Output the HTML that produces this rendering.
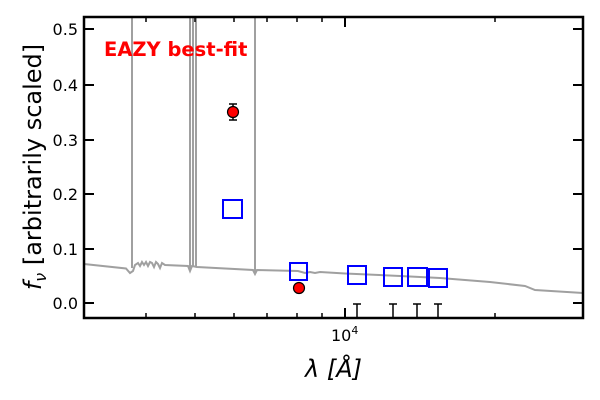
<!DOCTYPE html>
<html><head><meta charset="utf-8"><style>body{margin:0;background:#fff}svg{display:block}</style></head><body>
<svg width="600" height="400" xmlns="http://www.w3.org/2000/svg" font-family="'DejaVu Sans','Liberation Sans',sans-serif">
<rect width="600" height="400" fill="#fff"/>
<g stroke="#a0a0a0" stroke-width="2" fill="none">
<line x1="132" y1="17" x2="132" y2="268"/>
<line x1="190" y1="17" x2="190" y2="270"/>
<line x1="193" y1="17" x2="193" y2="266"/>
<line x1="196" y1="17" x2="196" y2="266"/>
<line x1="255" y1="17" x2="255" y2="273"/>
<polyline points="84,264 126,268.5 130,273 133,271 135,265 138,263 140,266 142,262 144,265 146,262 148,266 150,262 152,263 154,267 156,262 158,264 160,268 162,263 165,265 188,266 190,271 192,266 197,267 253,270 255,274 257,270 298,271 305,273 310,272 315,273 320,272 345,273.5 400,276 440,278 490,282 525,286 535,290 583,293"/>
</g>
<g stroke="#000" stroke-width="1.5">
<line x1="357" y1="304" x2="357" y2="318"/><line x1="353" y1="304" x2="361" y2="304"/>
<line x1="393" y1="304" x2="393" y2="318"/><line x1="389" y1="304" x2="397" y2="304"/>
<line x1="417" y1="304" x2="417" y2="318"/><line x1="413" y1="304" x2="421" y2="304"/>
<line x1="438" y1="304" x2="438" y2="318"/><line x1="434" y1="304" x2="442" y2="304"/>
<line x1="233" y1="104" x2="233" y2="120"/><line x1="229" y1="104" x2="237" y2="104"/><line x1="229" y1="120" x2="237" y2="120"/>
</g>
<g fill="none" stroke="#0000ff" stroke-width="2">
<rect x="223" y="200" width="19" height="18"/>
<rect x="290" y="263" width="17" height="17"/>
<rect x="348" y="266" width="18" height="18"/>
<rect x="384" y="268" width="18" height="18"/>
<rect x="408" y="268" width="19" height="18"/>
<rect x="429" y="269" width="18" height="18"/>
</g>
<circle cx="233" cy="112" r="5.5" fill="#ff0000" stroke="#000" stroke-width="1.2"/>
<circle cx="299" cy="288" r="5.5" fill="#ff0000" stroke="#000" stroke-width="1.2"/>
<g stroke="#000" stroke-width="2">
<line x1="84" y1="29" x2="94" y2="29"/><line x1="583" y1="29" x2="573" y2="29"/>
<line x1="84" y1="85" x2="94" y2="85"/><line x1="583" y1="85" x2="573" y2="85"/>
<line x1="84" y1="140" x2="94" y2="140"/><line x1="583" y1="140" x2="573" y2="140"/>
<line x1="84" y1="194" x2="94" y2="194"/><line x1="583" y1="194" x2="573" y2="194"/>
<line x1="84" y1="249" x2="94" y2="249"/><line x1="583" y1="249" x2="573" y2="249"/>
<line x1="84" y1="303" x2="94" y2="303"/><line x1="583" y1="303" x2="573" y2="303"/>
<line x1="345" y1="318" x2="345" y2="308"/><line x1="345" y1="17" x2="345" y2="27"/>
</g>
<g stroke="#000" stroke-width="1.5">
<path d="M146 318v-5M195 318v-5M234 318v-5M267 318v-5M297 318v-5M322 318v-5M495 318v-5M146 17v5M195 17v5M234 17v5M267 17v5M297 17v5M322 17v5M495 17v5"/>
</g>
<rect x="84" y="17" width="499" height="301" fill="none" stroke="#000" stroke-width="2.5"/>
<g font-size="16" fill="#000" text-anchor="end">
<text x="78" y="35">0.5</text><text x="78" y="91">0.4</text><text x="78" y="146">0.3</text>
<text x="78" y="200">0.2</text><text x="78" y="255">0.1</text><text x="78" y="309">0.0</text>
</g>
<text x="331" y="341" font-size="16">10<tspan font-size="11" dy="-7">4</tspan></text>
<text x="104" y="56" font-size="19.5" font-weight="bold" fill="#ff0000">EAZY best-fit</text>
<text x="305" y="377" font-size="24" font-style="italic">λ [Å]</text>
<text transform="translate(41,167) rotate(-90)" font-size="24" text-anchor="middle"><tspan font-style="italic">f</tspan><tspan font-style="italic" font-size="16" dy="5">ν</tspan><tspan dy="-5"> [arbitrarily scaled]</tspan></text>
</svg>
</body></html>
